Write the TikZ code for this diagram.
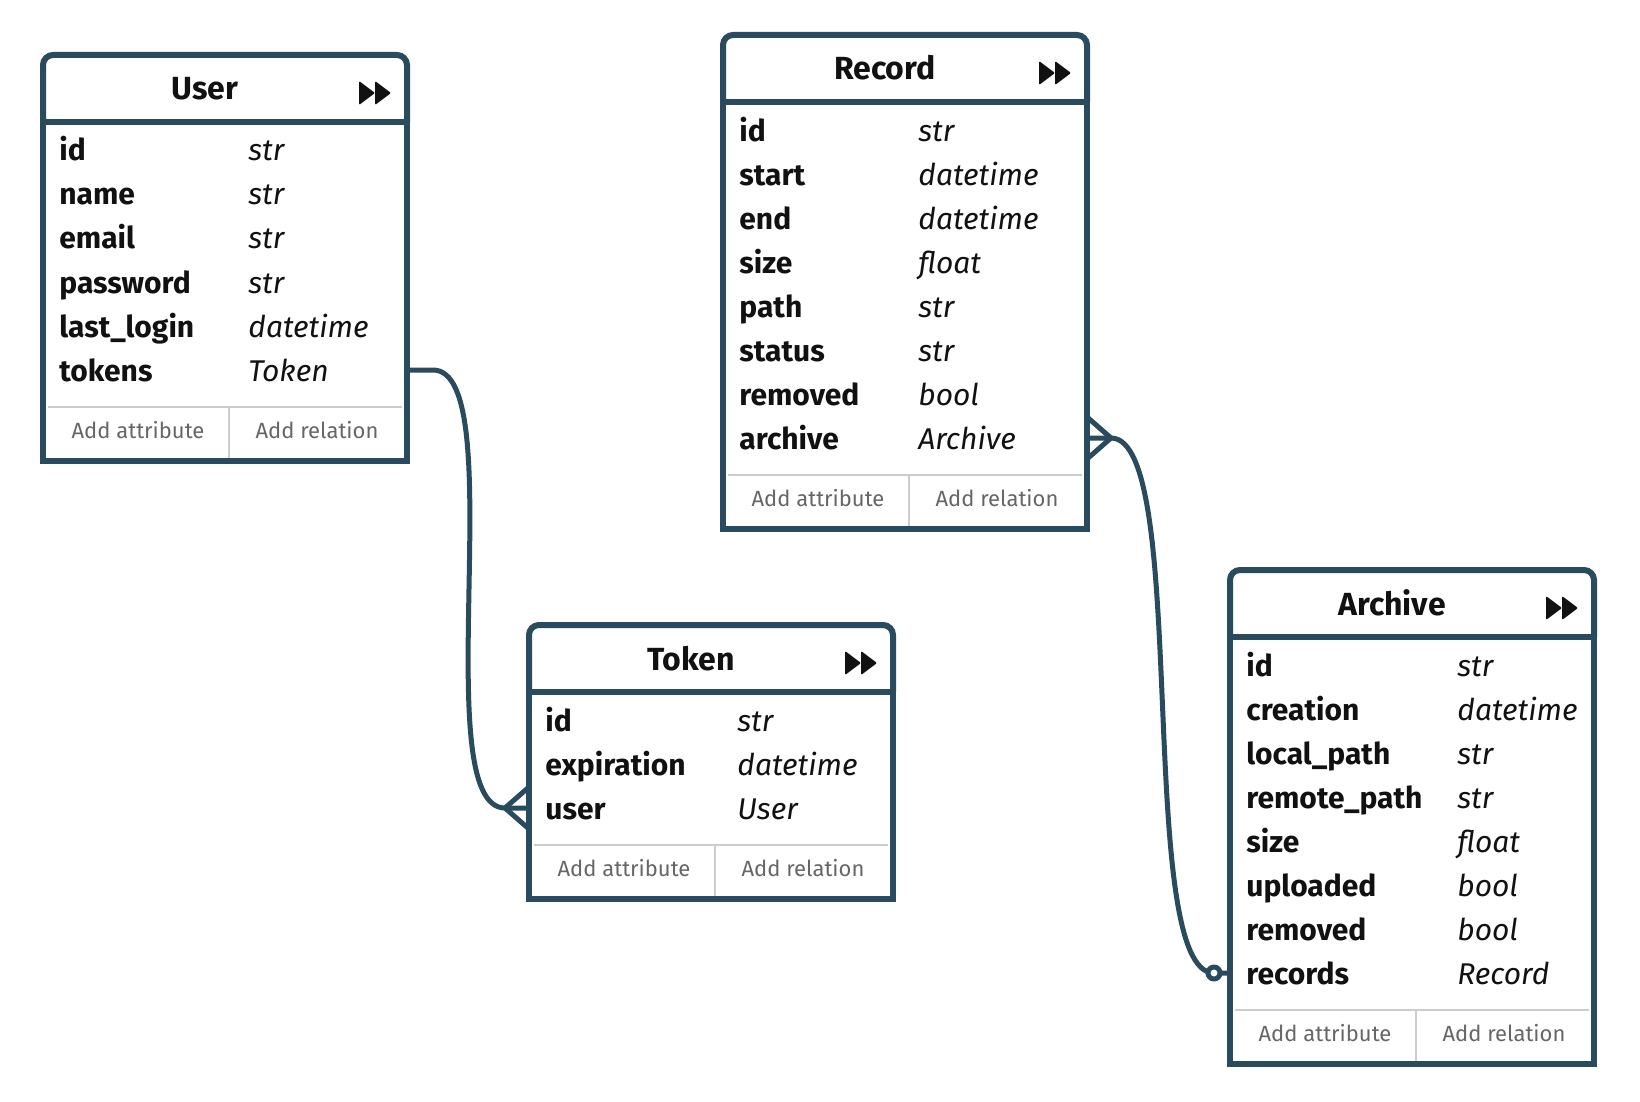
\documentclass[tikz,border=0pt]{standalone}
\usepackage{fontspec}
\setmainfont{Fira Sans}
\usetikzlibrary{calc}

\definecolor{erdline}{HTML}{2A4A5E}
\definecolor{rulegrey}{HTML}{CCCCCC}
\definecolor{addgrey}{HTML}{666666}
\definecolor{ink}{HTML}{111111}

\newcommand{\ttlfont}{\fontsize{16}{19}\selectfont\bfseries}
\newcommand{\rowfont}{\fontsize{15}{18}\selectfont}
\newcommand{\btnfont}{\fontsize{11}{13}\selectfont}
% fast-forward mark in a table header
\newcommand{\ffwd}{%
  \fill[ink, rounded corners=0.6pt] (316,26) -- (332,38) -- (316,50) -- cycle;
  \fill[ink, rounded corners=0.6pt] (332,26) -- (348,38) -- (332,50) -- cycle;}

\tikzset{
  tbl/.style={draw=erdline, line width=3pt},
  thinrule/.style={draw=rulegrey, line width=0.6pt},
  ttl/.style={font=\ttlfont, text=ink, anchor=base, inner sep=0pt},
  attr/.style={font=\rowfont\bfseries, text=ink, anchor=base west, inner sep=0pt},
  kind/.style={font=\rowfont\itshape, text=ink, anchor=base west, inner sep=0pt},
  btn/.style={font=\btnfont, text=addgrey, anchor=base, inner sep=0pt},
  rel/.style={draw=erdline, line width=2.5pt, line join=round},
}

\begin{document}
\begin{tikzpicture}[x=0.5pt, y=-0.5pt]
\fill[white] (0,0) rectangle (1640,1102);
\useasboundingbox (0,0) rectangle (1640,1102);

% User
\begin{scope}[shift = {(43,55)}]
\draw[tbl, rounded corners=5pt] (0,67) -- (0,0) -- (364,0) -- (364,67);
\draw[tbl] (0,67) rectangle (364,406);
\node[ttl] (user) at (162,45) {User};
\ffwd
\foreach \a/\t [count=\i from 0] in {id/str, name/str, email/str, password/str, last\_login/datetime, tokens/Token}
  {\node[attr] (user-a\i) at (16,106+44*\i) {\a};
   \node[kind] (user-t\i) at (205,106+44*\i) {\t};}
\draw[thinrule] (5,352) -- (359,352) (186,352) -- (186,403);
\node[btn] (user-addattr) at (95,383) {Add attribute};
\node[btn] (user-addrel) at (274,383) {Add relation};
\coordinate (user-out) at (364,315);
\end{scope}

% Record
\begin{scope}[shift = {(723,35)}]
\draw[tbl, rounded corners=5pt] (0,67) -- (0,0) -- (364,0) -- (364,67);
\draw[tbl] (0,67) rectangle (364,494);
\node[ttl] (record) at (162,45) {Record};
\ffwd
\foreach \a/\t [count=\i from 0] in {id/str, start/datetime, end/datetime, size/float, path/str, status/str, removed/bool, archive/Archive}
  {\node[attr] (record-a\i) at (16,106+44*\i) {\a};
   \node[kind] (record-t\i) at (195,106+44*\i) {\t};}
\draw[thinrule] (5,440) -- (359,440) (186,440) -- (186,491);
\node[btn] (record-addattr) at (95,471) {Add attribute};
\node[btn] (record-addrel) at (274,471) {Add relation};
\coordinate (record-out) at (364,403);
\end{scope}

% Token
\begin{scope}[shift = {(529,625)}]
\draw[tbl, rounded corners=5pt] (0,67) -- (0,0) -- (364,0) -- (364,67);
\draw[tbl] (0,67) rectangle (364,274);
\node[ttl] (token) at (162,45) {Token};
\ffwd
\foreach \a/\t [count=\i from 0] in {id/str, expiration/datetime, user/User}
  {\node[attr] (token-a\i) at (16,106+44*\i) {\a};
   \node[kind] (token-t\i) at (208,106+44*\i) {\t};}
\draw[thinrule] (5,220) -- (359,220) (186,220) -- (186,271);
\node[btn] (token-addattr) at (95,251) {Add attribute};
\node[btn] (token-addrel) at (274,251) {Add relation};
\coordinate (token-in) at (0,183);
\end{scope}

% Archive
\begin{scope}[shift = {(1230,570)}]
\draw[tbl, rounded corners=5pt] (0,67) -- (0,0) -- (364,0) -- (364,67);
\draw[tbl] (0,67) rectangle (364,494);
\node[ttl] (archive) at (162,45) {Archive};
\ffwd
\foreach \a/\t [count=\i from 0] in {id/str, creation/datetime, local\_path/str, remote\_path/str, size/float, uploaded/bool, removed/bool, records/Record}
  {\node[attr] (archive-a\i) at (16,106+44*\i) {\a};
   \node[kind] (archive-t\i) at (227,106+44*\i) {\t};}
\draw[thinrule] (5,440) -- (359,440) (186,440) -- (186,491);
\node[btn] (archive-addattr) at (95,471) {Add attribute};
\node[btn] (archive-addrel) at (274,471) {Add relation};
\coordinate (archive-in) at (0,403);
\end{scope}

% relations
\draw[rel] (user-out) -- ++(26,0) .. controls +(80,0) and +(-80,0) .. ($(token-in)+(-24,0)$) -- (token-in);
\draw[rel] ($(token-in)+(0,-21)$) -- ($(token-in)+(-24,0)$) -- ($(token-in)+(0,21)$);

\draw[rel] (record-out) -- ++(24,0) .. controls +(80,0) and +(-80,0) .. ($(archive-in)+(-16,0)$) -- (archive-in);
\draw[rel] ($(record-out)+(0,-21)$) -- ($(record-out)+(24,0)$) -- ($(record-out)+(0,21)$);
\draw[rel, fill=white] ($(archive-in)+(-16,0)$) circle[radius=3pt];
\end{tikzpicture}
\end{document}
